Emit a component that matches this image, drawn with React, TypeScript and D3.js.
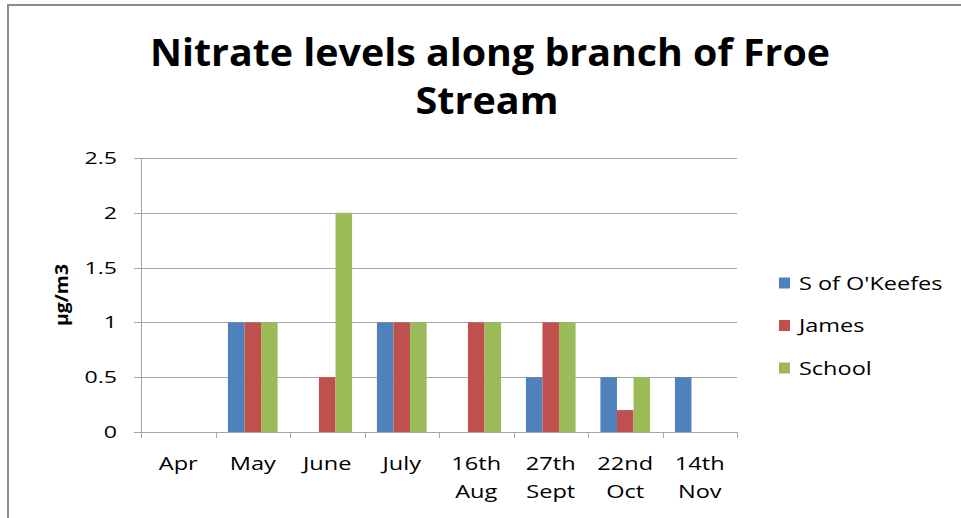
import React from "react";
import * as d3 from "d3";

const categories = ["Apr", "May", "June", "July", "16th Aug", "27th Sept", "22nd Oct", "14th Nov"];
const seriesNames = ["S of O'Keefes", "James", "School"];
const okeefes = [0, 1, 0, 1, 0, 0.5, 0.5, 0.5];
const james = [0, 1, 0.5, 1, 1, 1, 0.2, 0];
const school = [0, 1, 2, 1, 1, 1, 0.5, 0];
const yTicks = [0, 0.5, 1, 1.5, 2, 2.5];
const colors = ["#4F81BD", "#C0504D", "#9BBB59"];
const titleLines = ["Nitrate levels along branch of Froe", "Stream"];
const yLabel = "µg/m3";

const W = 961;
const H = 518;
const plot = { left: 141, right: 737, top: 158, bottom: 432 };
const FONT = "'Open Sans', 'Noto Sans', sans-serif";

function SText(props: { x: number; y: number; sx: number; size: number; anchor?: string; children: React.ReactNode }) {
  return (
    <g transform={`translate(${props.x},${props.y}) scale(${props.sx},1)`}>
      <text x={0} y={0} textAnchor={props.anchor || "start"} fontSize={props.size} fill="#000">
        {props.children}
      </text>
    </g>
  );
}

export default function App() {
  const series = [okeefes, james, school];
  const x = d3.scaleBand<string>().domain(categories).range([plot.left, plot.right]).paddingInner(0).paddingOuter(0);
  const inner = d3
    .scaleBand<number>()
    .domain([0, 1, 2])
    .range([0, x.bandwidth()])
    .paddingOuter(0.75)
    .paddingInner(0);
  const y = d3.scaleLinear().domain([0, 2.5]).range([plot.bottom, plot.top]);
  const grid = "#a6a6a6";

  const boundaries = d3.range(categories.length + 1).map((i) => plot.left + i * x.bandwidth());

  return (
    <svg width={W} height={H} style={{ position: "absolute", left: 0, top: 0 }} fontFamily={FONT}>
      <rect x={0} y={0} width={W} height={H} fill="#fff" />
      {/* outer border */}
      <line x1={7} y1={5} x2={W} y2={5} stroke="#8c8c8c" strokeWidth={2} />
      <line x1={8} y1={4} x2={8} y2={H} stroke="#8c8c8c" strokeWidth={2} />

      {/* title */}
      <text x={490} y={66} textAnchor="middle" fontWeight="bold" fontSize={37} fill="#000" textLength={680} lengthAdjust="spacingAndGlyphs">
        {titleLines[0]}
      </text>
      <text x={487} y={114} textAnchor="middle" fontWeight="bold" fontSize={37} fill="#000" textLength={143} lengthAdjust="spacingAndGlyphs">
        {titleLines[1]}
      </text>

      {/* gridlines and y ticks */}
      {yTicks.map((t) => (
        <g key={t}>
          <line x1={plot.left - 7} x2={plot.right} y1={Math.round(y(t)) + 0.5} y2={Math.round(y(t)) + 0.5} stroke={grid} strokeWidth={1} />
          <SText x={117} y={y(t) + 6} sx={1.36} size={17} anchor="end">
            {t}
          </SText>
        </g>
      ))}

      {/* bars */}
      {categories.map((c, ci) =>
        series.map((s, si) => {
          const v = s[ci];
          if (!v) return null;
          return (
            <rect
              key={c + si}
              x={(x(c) as number) + (inner(si) as number)}
              y={y(v)}
              width={inner.bandwidth()}
              height={y(0) - y(v)}
              fill={colors[si]}
            />
          );
        })
      )}

      {/* axes */}
      <line x1={plot.left + 0.5} x2={plot.left + 0.5} y1={plot.top} y2={plot.bottom} stroke={grid} strokeWidth={1} />
      <line x1={plot.left} x2={plot.right} y1={plot.bottom + 0.5} y2={plot.bottom + 0.5} stroke={grid} strokeWidth={1} />
      {boundaries.map((b, i) => (
        <line key={i} x1={Math.round(b) + 0.5} x2={Math.round(b) + 0.5} y1={plot.bottom} y2={plot.bottom + 6} stroke={grid} strokeWidth={1} />
      ))}

      {/* x labels */}
      {categories.map((c) => {
        const parts = c.split(" ");
        const cx = (x(c) as number) + x.bandwidth() / 2;
        return (
          <g key={c}>
            {parts.map((p, i) => (
              <SText key={i} x={cx} y={470 + i * 28} sx={1.24} size={19} anchor="middle">
                {p}
              </SText>
            ))}
          </g>
        );
      })}

      {/* y axis label */}
      <text
        transform="translate(68,295) rotate(-90)"
        textAnchor="middle"
        fontWeight="bold"
        fontSize={17}
        fill="#000"
        textLength={62}
        lengthAdjust="spacingAndGlyphs"
      >
        {yLabel}
      </text>

      {/* legend */}
      {seriesNames.map((n, i) => {
        const ly = 283 + i * 42.5;
        return (
          <g key={n}>
            <rect x={779} y={ly - 5.5} width={11} height={11} fill={colors[i]} />
            <SText x={799} y={ly + 6.5} sx={1.27} size={18.5}>
              {n}
            </SText>
          </g>
        );
      })}
    </svg>
  );
}
